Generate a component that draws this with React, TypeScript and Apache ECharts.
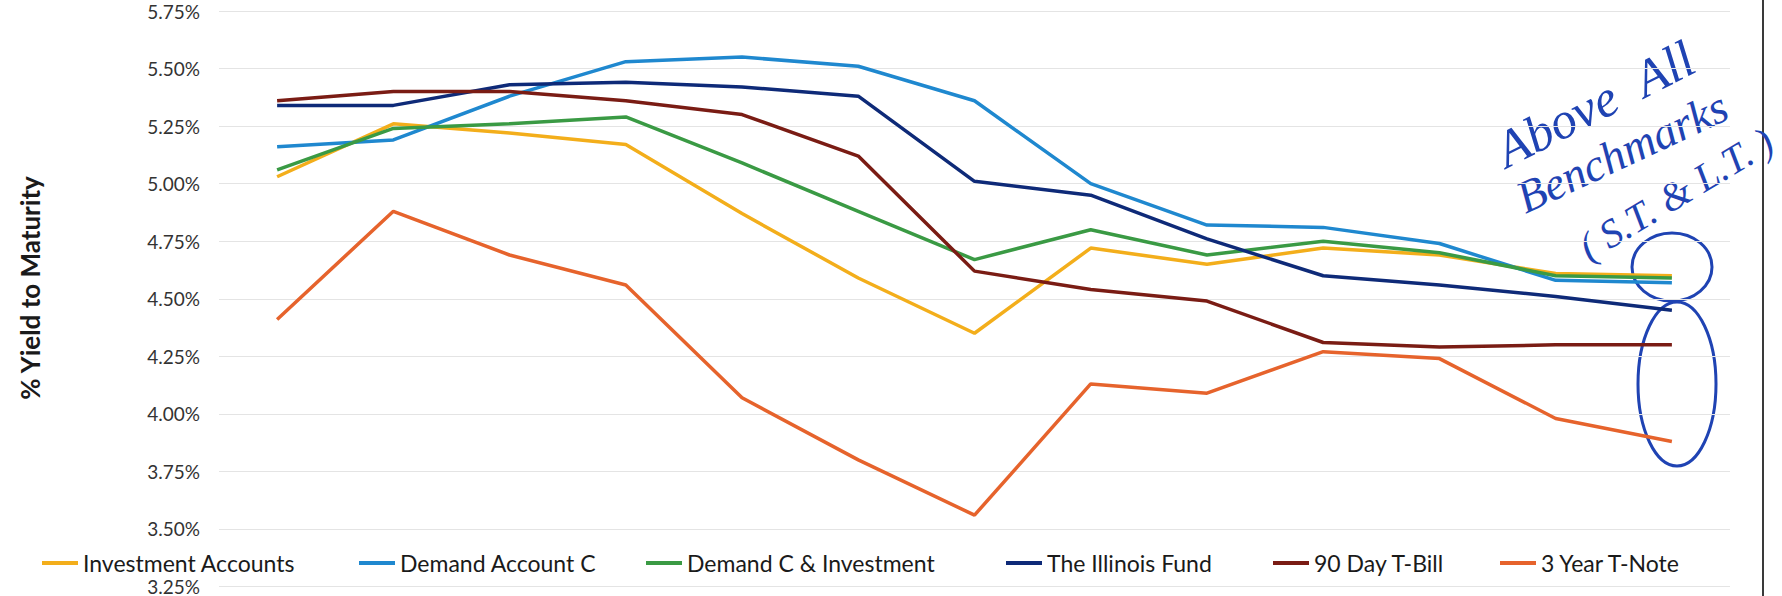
import React, { useEffect, useRef } from "react";
import * as echarts from "echarts";

const categories = ["1", "2", "3", "4", "5", "6", "7", "8", "9", "10", "11", "12", "13"];

const investmentAccounts = [5.03, 5.26, 5.22, 5.17, 4.87, 4.59, 4.35, 4.72, 4.65, 4.72, 4.69, 4.61, 4.60];
const demandAccountC = [5.16, 5.19, 5.38, 5.53, 5.55, 5.51, 5.36, 5.00, 4.82, 4.81, 4.74, 4.58, 4.57];
const demandCInvestment = [5.06, 5.24, 5.26, 5.29, 5.09, 4.88, 4.67, 4.80, 4.69, 4.75, 4.70, 4.60, 4.59];
const illinoisFund = [5.34, 5.34, 5.43, 5.44, 5.42, 5.38, 5.01, 4.95, 4.76, 4.60, 4.56, 4.51, 4.45];
const tBill90 = [5.36, 5.40, 5.40, 5.36, 5.30, 5.12, 4.62, 4.54, 4.49, 4.31, 4.29, 4.30, 4.30];
const tNote3 = [4.41, 4.88, 4.69, 4.56, 4.07, 3.80, 3.56, 4.13, 4.09, 4.27, 4.24, 3.98, 3.88];

const seriesNames = [
  "Investment Accounts",
  "Demand Account C",
  "Demand C & Investment",
  "The Illinois Fund",
  "90 Day T-Bill",
  "3 Year T-Note",
];
const seriesData = [investmentAccounts, demandAccountC, demandCInvestment, illinoisFund, tBill90, tNote3];
const seriesColors = ["#F3AE1B", "#1F88CF", "#3A9A44", "#0E2A78", "#7A1C14", "#E6632C"];
const legendLefts = [42, 359, 646, 1006, 1273, 1500];

const yMin = 3.25;
const yMax = 5.75;
const yStep = 0.25;

const axisTitle = "% Yield to Maturity";
const noteLines = ["Above  All", "Benchmarks", "( S.T. & L.T. )"];

export default function App() {
  const ref = useRef<HTMLDivElement>(null);
  useEffect(() => {
    if (!ref.current) return;
    const chart = echarts.init(ref.current, null, { renderer: "svg" });
    const ink = "#1F43B3";
    const font = "Lato";
    const hand = "Liberation Serif";
    const option: any = {
      animation: false,
      backgroundColor: "#ffffff",
      grid: { left: 219, right: 52, top: 11, bottom: 0, containLabel: false },
      xAxis: {
        type: "category",
        data: categories,
        boundaryGap: true,
        axisLine: { show: false },
        axisTick: { show: false },
        axisLabel: { show: false },
        splitLine: { show: false },
      },
      yAxis: {
        type: "value",
        min: yMin,
        max: yMax,
        interval: yStep,
        axisLine: { show: false },
        axisTick: { show: false },
        axisLabel: {
          margin: 19,
          fontFamily: font,
          fontSize: 19,
          color: "#333333",
          formatter: (v: number) => v.toFixed(2) + "%",
        },
        splitLine: { lineStyle: { color: "#e4e4e4", width: 1 } },
      },
      legend: seriesNames.map((n, i) => ({
        data: [n],
        left: legendLefts[i],
        top: 550,
        orient: "horizontal",
        icon: "rect",
        itemWidth: 36,
        itemHeight: 4,
        padding: 0,
        textStyle: { fontFamily: font, fontSize: 23, color: "#1a1a1a", lineHeight: 26 },
      })),
      series: seriesNames.map((n, i) => ({
        name: n,
        type: "line",
        data: seriesData[i],
        symbol: "none",
        color: seriesColors[i],
        lineStyle: { width: 3.5, color: seriesColors[i] },
      })),
      graphic: [
        {
          type: "text",
          x: 30,
          y: 288,
          rotation: Math.PI / 2,
          style: {
            text: axisTitle,
            fontFamily: font,
            fontWeight: "bold",
            fontSize: 26,
            fill: "#1a1a1a",
            align: "center",
            verticalAlign: "middle",
          },
        },
        {
          type: "line",
          shape: { x1: 1763, y1: 0, x2: 1763, y2: 596 },
          style: { stroke: "#3a3a3a", lineWidth: 2 },
        },
        {
          type: "text",
          x: 1595,
          y: 104,
          rotation: (27 * Math.PI) / 180,
          style: {
            text: noteLines[0],
            fontFamily: hand,
            fontStyle: "italic",
            fontSize: 52,
            fill: ink,
            align: "center",
            verticalAlign: "middle",
          },
        },
        {
          type: "text",
          x: 1622,
          y: 152,
          rotation: (25 * Math.PI) / 180,
          style: {
            text: noteLines[1],
            fontFamily: hand,
            fontStyle: "italic",
            fontSize: 46,
            fill: ink,
            align: "center",
            verticalAlign: "middle",
          },
        },
        {
          type: "text",
          x: 1676,
          y: 194,
          rotation: (31 * Math.PI) / 180,
          style: {
            text: noteLines[2],
            fontFamily: hand,
            fontStyle: "italic",
            fontSize: 40,
            fill: ink,
            align: "center",
            verticalAlign: "middle",
          },
        },
        {
          type: "ellipse",
          shape: { cx: 1672, cy: 267, rx: 40, ry: 34 },
          style: { fill: "none", stroke: ink, lineWidth: 3 },
        },
        {
          type: "ellipse",
          shape: { cx: 1677, cy: 384, rx: 39, ry: 82 },
          style: { fill: "none", stroke: ink, lineWidth: 3 },
        },
      ],
    };
    chart.setOption(option);
    return () => chart.dispose();
  }, []);
  return (
    <div
      ref={ref}
      style={{ position: "fixed", left: 0, top: 0, width: 1782, height: 596, background: "#fff" }}
    />
  );
}
